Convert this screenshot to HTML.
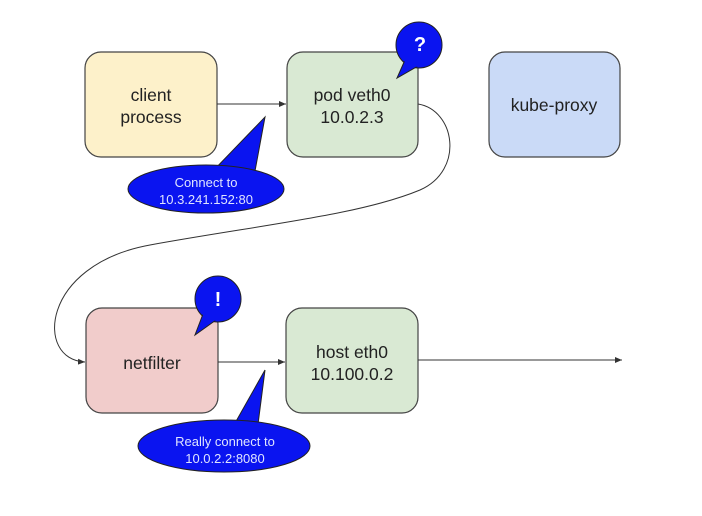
<!DOCTYPE html>
<html><head><style>body{margin:0;background:#fff}svg{display:block}</style></head><body>
<svg width="702" height="516" viewBox="0 0 702 516" font-family="Liberation Sans, sans-serif">
<defs><marker id="a" markerWidth="8" markerHeight="8" refX="7" refY="4" orient="auto" markerUnits="userSpaceOnUse"><path d="M0,1 L7,4 L0,7z" fill="#333"/></marker></defs>
<g stroke="#444" stroke-width="1.2">
<rect x="85" y="52" width="132" height="105" rx="16" fill="#fdf1ca"/>
<rect x="287" y="52" width="131" height="105" rx="16" fill="#d9e9d3"/>
<rect x="489" y="52" width="131" height="105" rx="16" fill="#cadaf7"/>
<rect x="86" y="308" width="132" height="105" rx="16" fill="#f1cccb"/>
<rect x="286" y="308" width="132" height="105" rx="16" fill="#d9e9d3"/>
</g>
<g stroke="#333" stroke-width="1" fill="none">
<line x1="217" y1="104" x2="286" y2="104" marker-end="url(#a)"/>
<line x1="218" y1="362" x2="285" y2="362" marker-end="url(#a)"/>
<line x1="418" y1="360" x2="622" y2="360" marker-end="url(#a)"/>
<path d="M418,104 C455,110 465,170 420,190 C360,215 260,225 150,245 C40,265 35,360 85,362" marker-end="url(#a)"/>
</g>
<g fill="#0a14f0" stroke="#222" stroke-width="1">
<path d="M212,172 L265,117 L255,171 Z"/>
<ellipse cx="206" cy="189" rx="78" ry="24"/>
<path d="M214,172 L253,172" stroke="#0a14f0" stroke-width="3"/>
<path d="M230,432 L265,370 L257,432 Z"/>
<ellipse cx="224" cy="446" rx="86" ry="26"/>
<path d="M233,426 L255,426" stroke="#0a14f0" stroke-width="6"/>
<circle cx="419" cy="45" r="23"/>
<path d="M405,60 L397,78 L418,66 Z"/>
<circle cx="218" cy="299" r="23"/>
<path d="M203,314 L195,335 L216,320 Z"/>
</g>
<g fill="#0a14f0"><circle cx="419" cy="45" r="22"/><circle cx="218" cy="299" r="22"/></g>
<g fill="#222" font-size="17.5" text-anchor="middle">
<text x="151" y="101">client</text><text x="151" y="123">process</text>
<text x="352" y="101">pod veth0</text><text x="352" y="123">10.0.2.3</text>
<text x="554" y="111">kube-proxy</text>
<text x="152" y="369">netfilter</text>
<text x="352" y="358">host eth0</text><text x="352" y="380">10.100.0.2</text>
</g>
<g fill="#dfe4ff" font-size="13" text-anchor="middle">
<text x="206" y="187">Connect to</text><text x="206" y="204">10.3.241.152:80</text>
<text x="225" y="446">Really connect to</text><text x="225" y="463">10.0.2.2:8080</text>
</g>
<g fill="#fff" font-size="20" font-weight="bold" text-anchor="middle">
<text x="420" y="51">?</text><text x="218" y="306">!</text>
</g>
</svg>
</body></html>
